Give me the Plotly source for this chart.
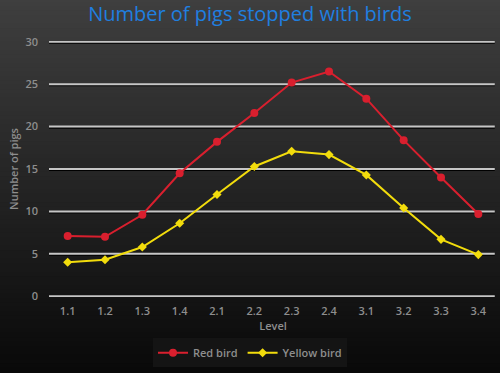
import plotly.graph_objects as go

levels = ["1.1", "1.2", "1.3", "1.4", "2.1", "2.2", "2.3", "2.4", "3.1", "3.2", "3.3", "3.4"]
red_bird = [7.1, 7.0, 9.6, 14.5, 18.2, 21.6, 25.2, 26.5, 23.3, 18.4, 14.0, 9.7]
yellow_bird = [4.0, 4.3, 5.8, 8.6, 12.0, 15.3, 17.1, 16.7, 14.3, 10.4, 6.7, 4.9]
y_ticks = [0, 5, 10, 15, 20, 25, 30]

TXT = "#8e8e8e"

fig = go.Figure()
fig.add_trace(go.Scatter(x=levels, y=red_bird, name="Red bird", mode="lines+markers",
                         line=dict(color="#d91f2e", width=2),
                         marker=dict(symbol="circle", size=8, color="#d91f2e")))
fig.add_trace(go.Scatter(x=levels, y=yellow_bird, name="Yellow bird", mode="lines+markers",
                         line=dict(color="#f2dc0c", width=2),
                         marker=dict(symbol="diamond", size=7, color="#f2dc0c")))

# vertical gradient background (paper spans plot area; extend well into margins)
shapes = []
n = 90
top = (0x40, 0x40, 0x40)
bot = (0x08, 0x08, 0x08)
y_hi, y_lo = 1.2, -0.33
for i in range(n):
    t = i / (n - 1)
    c = tuple(int(round(top[k] + (bot[k] - top[k]) * t)) for k in range(3))
    y1 = y_hi - i * (y_hi - y_lo) / n
    y0 = y_hi - (i + 1) * (y_hi - y_lo) / n
    shapes.append(dict(type="rect", xref="paper", yref="paper", layer="below",
                       x0=-0.3, x1=1.3, y0=y0 - 0.003, y1=y1 + 0.003,
                       fillcolor="rgb(%d,%d,%d)" % c, line=dict(width=0)))
# grid lines with a dark shadow underneath
for v in y_ticks:
    shapes.append(dict(type="line", xref="paper", yref="y", layer="below",
                       x0=0, x1=0.995, y0=v - 0.15, y1=v - 0.15,
                       line=dict(color="#000000", width=1.5)))
    shapes.append(dict(type="line", xref="paper", yref="y", layer="below",
                       x0=0, x1=0.995, y0=v, y1=v,
                       line=dict(color="#c6c6c6", width=2)))

fig.update_layout(
    width=500, height=373,
    paper_bgcolor="#080808", plot_bgcolor="rgba(0,0,0,0)",
    margin=dict(l=49, r=3, t=41, b=76, autoexpand=False),
    font=dict(family="Open Sans", color=TXT, size=11),
    title=dict(text="Number of pigs stopped with birds", x=0.5, xanchor="center",
               xref="container", yref="container", y=0.962, yanchor="middle",
               font=dict(family="Open Sans", size=20, color="#1f7fe0")),
    shapes=shapes,
    showlegend=True,
    legend=dict(orientation="h", xref="container", x=0.5, xanchor="center",
                y=-0.218, yanchor="middle",
                bgcolor="#141414", font=dict(size=11, color=TXT, weight=600),
                itemwidth=30, tracegroupgap=0),
    xaxis=dict(type="category", range=[-0.5, len(levels) - 0.5], showgrid=False,
               zeroline=False, showline=False,
               automargin=False, ticks="", ticklabelstandoff=6,
               tickfont=dict(size=11, color=TXT, weight=600),
               title=dict(text="Level", standoff=5, font=dict(size=11, color=TXT, weight=600))),
    yaxis=dict(range=[-0.1, 30.1], tickvals=y_ticks, showgrid=False,
               zeroline=False, showline=False, ticks="", automargin=False,
               ticklabelstandoff=10,
               tickfont=dict(size=11, color=TXT, weight=600),
               title=dict(text="Number of pigs", standoff=4, font=dict(size=11, color=TXT, weight=600))),
)

fig.write_html("out.html", config={"displayModeBar": False},
               post_script="document.body.style.margin='0';document.body.style.background='#080808';")
